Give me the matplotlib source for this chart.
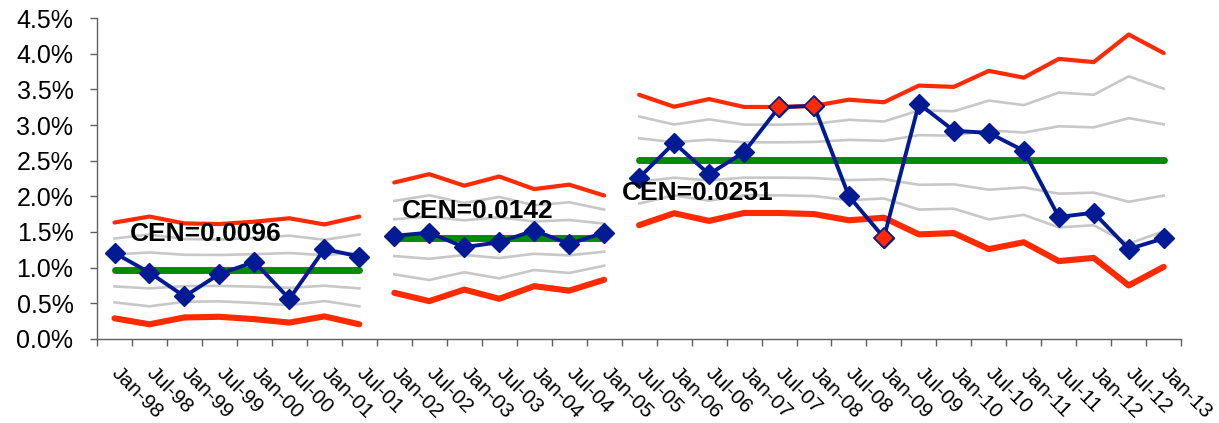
import matplotlib.pyplot as plt
import matplotlib.transforms as mtransforms
import numpy as np
from matplotlib.ticker import FuncFormatter

plt.rcParams['font.family'] = ['Liberation Sans', 'DejaVu Sans']

labels = ["Jan-98", "Jul-98", "Jan-99", "Jul-99", "Jan-00", "Jul-00", "Jan-01", "Jul-01",
          "Jan-02", "Jul-02", "Jan-03", "Jul-03", "Jan-04", "Jul-04", "Jan-05",
          "Jul-05", "Jan-06", "Jul-06", "Jan-07", "Jul-07", "Jan-08", "Jul-08", "Jan-09",
          "Jul-09", "Jan-10", "Jul-10", "Jan-11", "Jul-11", "Jan-12", "Jul-12", "Jan-13"]

# observed proportion per half-year
rate = [0.01205, 0.0093, 0.00595, 0.0091, 0.0108, 0.0056, 0.0126, 0.01155,
        0.01446, 0.0149, 0.01286, 0.01356, 0.0152, 0.01332, 0.0149,
        0.0226, 0.0275, 0.0231, 0.0262, 0.0325, 0.0327, 0.0200, 0.0142,
        0.0330, 0.0292, 0.0289, 0.0264, 0.0171, 0.0177, 0.0126, 0.0141]

# one sigma per point (limits sit at 3 sigma)
sigma = [0.00224, 0.00252, 0.00220, 0.00217, 0.00228, 0.00244, 0.00215, 0.00252,
         0.00258, 0.00297, 0.00243, 0.00286, 0.00227, 0.00248, 0.00197,
         0.00305, 0.00249, 0.00285, 0.00248, 0.00248, 0.00253, 0.00282, 0.00270,
         0.00348, 0.00342, 0.00417, 0.00385, 0.00473, 0.00458, 0.00587, 0.00500]

seg_sizes = [8, 7, 16]
cen = [0.0096, 0.0142, 0.0251]
cen_text = ["CEN=0.0096", "CEN=0.0142", "CEN=0.0251"]
text_pos = [(0.43, 0.0147), (8.22, 0.0180), (14.5, 0.0205)]
out_of_control = ["Jul-07", "Jan-08", "Jan-09"]

RED = '#ff2a00'
BLUE = '#001a94'
GREEN = '#008c00'
GRAY = '#c8c8c8'

fig = plt.figure(figsize=(12.19, 4.23), dpi=100)
ax = fig.add_axes([0.0796, 0.199, 0.8894, 0.758])

x_all = np.arange(len(labels))
rate = np.array(rate)
sigma = np.array(sigma)

start = 0
for n, c, txt, pos in zip(seg_sizes, cen, cen_text, text_pos):
    xs = x_all[start:start + n]
    r = rate[start:start + n]
    s = sigma[start:start + n]
    for k in (-2, -1, 1, 2):
        ax.plot(xs, c + k * s, color=GRAY, lw=1.9, zorder=1)
    ax.plot(xs, c + 3 * s, color=RED, lw=3.0, solid_capstyle='round', zorder=2)
    ax.plot(xs, c - 3 * s, color=RED, lw=4.4, solid_capstyle='round', zorder=2)
    ax.plot(xs, [c] * n, color=GREEN, lw=5.0, solid_capstyle='round', zorder=3)
    ax.plot(xs, r, color=BLUE, lw=2.8, marker='D', ms=10.5, mfc=BLUE, mec=BLUE, zorder=4)
    ax.text(pos[0], pos[1], txt, fontsize=19, fontweight='bold', ha='left', va='center', zorder=5)
    start += n

flag = [labels.index(l) for l in out_of_control]
ax.plot(x_all[flag], rate[flag], ls='none', marker='D', ms=10.5, mfc=RED, mec=BLUE, mew=1.2, zorder=6)

ax.set_xlim(-0.5, len(labels) - 0.5)
ax.set_ylim(0, 0.045)
ax.set_yticks(np.arange(0, 0.0451, 0.005))
ax.yaxis.set_major_formatter(FuncFormatter(lambda v, p: "{:.1f}%".format(v * 100)))

ax.set_xticks(x_all)
ax.set_xticklabels(labels, rotation=-45, ha='left', va='baseline', rotation_mode='anchor')
ax.set_xticks(np.arange(-0.5, len(labels)), minor=True)
ax.tick_params(axis='x', which='major', length=0, pad=25, labelsize=15)
ax.tick_params(axis='x', which='minor', length=5, color='#606060', width=1)
ax.tick_params(axis='y', length=5, color='#606060', width=1, labelsize=18, pad=12)

shift = mtransforms.ScaledTranslation(-4 / 100, 0, fig.dpi_scale_trans)
for lab in ax.get_xticklabels():
    lab.set_transform(lab.get_transform() + shift)

for side in ('top', 'right'):
    ax.spines[side].set_visible(False)
for side in ('left', 'bottom'):
    ax.spines[side].set_color('#606060')
    ax.spines[side].set_linewidth(1)

fig.savefig("out.png", dpi=100)
